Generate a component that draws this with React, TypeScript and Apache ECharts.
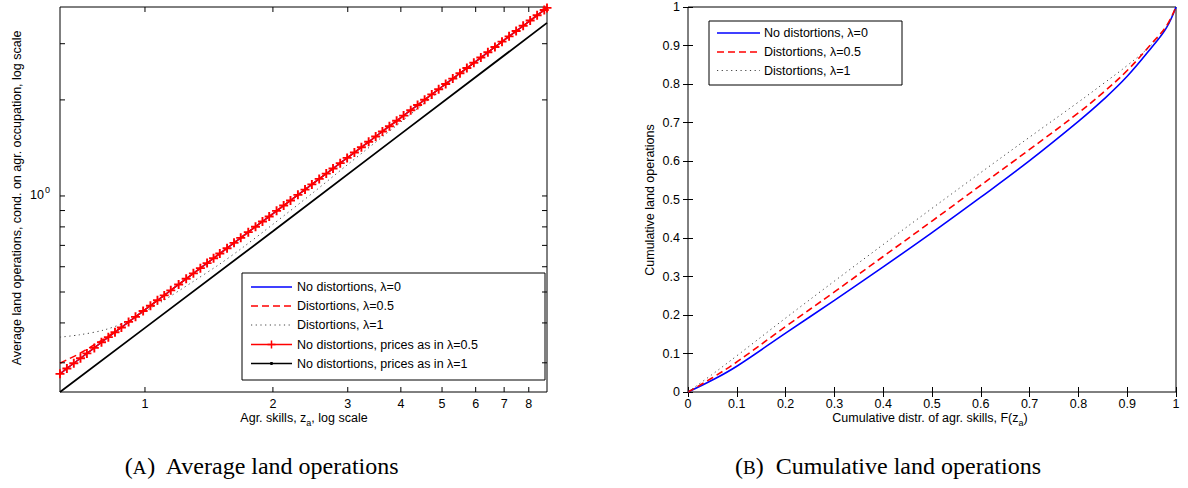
import React, { useEffect, useRef } from "react";
import * as echarts from "echarts";

const FONT = "'Liberation Sans', Arial, Helvetica, sans-serif";
const SERIF = "'Liberation Serif', 'Times New Roman', serif";

// ---------- Panel A: average land operations (log-log) ----------
const skillGrid = [
  0.631, 0.655, 0.68, 0.705, 0.73, 0.76, 0.79, 0.82, 0.85, 0.88,
  0.915, 0.95, 0.99, 1.03, 1.07, 1.11, 1.15, 1.2, 1.25, 1.3,
  1.35, 1.4, 1.45, 1.5, 1.56, 1.62, 1.68, 1.75, 1.82, 1.89,
  1.96, 2.04, 2.12, 2.2, 2.29, 2.38, 2.47, 2.57, 2.67, 2.77,
  2.88, 2.99, 3.11, 3.23, 3.36, 3.49, 3.62, 3.76, 3.91, 4.06,
  4.22, 4.38, 4.55, 4.73, 4.91, 5.1, 5.3, 5.51, 5.72, 5.94,
  6.17, 6.41, 6.66, 6.92, 7.19, 7.47, 7.76, 8.06, 8.37, 8.7,
  8.83,
];
const avgNoDist = [
  0.277, 0.288, 0.299, 0.31, 0.321, 0.334, 0.348, 0.361, 0.374, 0.387,
  0.403, 0.418, 0.436, 0.453, 0.471, 0.488, 0.506, 0.528, 0.55, 0.572,
  0.594, 0.616, 0.638, 0.66, 0.686, 0.713, 0.739, 0.77, 0.801, 0.832,
  0.862, 0.898, 0.933, 0.968, 1.008, 1.047, 1.087, 1.131, 1.175, 1.219,
  1.267, 1.316, 1.368, 1.421, 1.478, 1.536, 1.593, 1.654, 1.72, 1.786,
  1.857, 1.927, 2.002, 2.081, 2.16, 2.244, 2.332, 2.424, 2.517, 2.614,
  2.715, 2.82, 2.93, 3.045, 3.164, 3.287, 3.414, 3.546, 3.683, 3.828,
  3.885,
];
// "No distortions, prices as in λ=0.5" coincides with λ=0 in the picture
const avgPricesHalf = avgNoDist;

const distHalfSkills = [0.631, 0.7, 0.8, 0.9, 1.0, 2.0, 4.0, 8.83];
const avgDistHalf = [0.299, 0.32, 0.356, 0.396, 0.44, 0.88, 1.76, 3.885];

const distOneSkills = [0.631, 0.7, 0.8, 0.9, 1.0, 1.1, 1.3, 1.5, 1.7, 2, 2.5, 3, 4, 5, 6, 7, 8, 8.83];
const avgDistOne = [0.361, 0.367, 0.38, 0.402, 0.435, 0.468, 0.54, 0.612, 0.69, 0.815, 1.03, 1.255, 1.705, 2.165, 2.625, 3.075, 3.52, 3.885];

const pricesOneSkills = [0.631, 1, 2, 4, 8.83];
const avgPricesOne = [0.243, 0.386, 0.775, 1.565, 3.486];

const skillTicks = [1, 2, 3, 4, 5, 6, 7, 8];
const skillTickLabels = ["1", "2", "3", "4", "5", "6", "7", "8"];
const avgTicks = [0.3, 0.4, 0.5, 0.6, 0.7, 0.8, 0.9, 1, 2, 3];

// ---------- Panel B: cumulative land operations ----------
const cumSkills = [0, 0.05, 0.1, 0.2, 0.3, 0.4, 0.5, 0.6, 0.7, 0.8, 0.85, 0.9, 0.95, 0.98, 1];
const cumNoDist = [0, 0.031, 0.067, 0.153, 0.238, 0.325, 0.414, 0.506, 0.601, 0.703, 0.758, 0.82, 0.895, 0.945, 1];
const cumDistHalf = [0, 0.037, 0.078, 0.17, 0.26, 0.352, 0.444, 0.537, 0.63, 0.725, 0.777, 0.835, 0.905, 0.95, 1];
const cumDistOne = [0, 0.046, 0.094, 0.192, 0.288, 0.383, 0.477, 0.57, 0.662, 0.753, 0.8, 0.848, 0.902, 0.946, 1];

const pair = (xs: number[], ys: number[]) => xs.map((x, i) => [x, ys[i]]);

const BLUE = "#0000ff";
const RED = "#ff0000";
const DOT = "#444444";
const PLUS = "path://M0,5L10,5M5,0L5,10";

function buildOption() {
  const tickStyle = { stroke: "#000", lineWidth: 1 };
  const T = 5;

  const legendRow = (
    x1: number, x2: number, tx: number, y: number, text: string,
    stroke: string, dash: number[] | null, width: number, marker: string | null
  ) => {
    const els: any[] = [
      {
        type: "line",
        shape: { x1, y1: y, x2, y2: y },
        style: { stroke, lineWidth: width, lineDash: dash || undefined },
      },
    ];
    const cx = (x1 + x2) / 2;
    if (marker === "plus") {
      els.push({ type: "line", shape: { x1: cx, y1: y - 4, x2: cx, y2: y + 4 }, style: { stroke, lineWidth: 1.5 } });
      els.push({ type: "line", shape: { x1: cx - 4, y1: y, x2: cx + 4, y2: y }, style: { stroke, lineWidth: 1.5 } });
    }
    if (marker === "dot") {
      els.push({ type: "circle", shape: { cx, cy: y, r: 1.6 }, style: { fill: stroke } });
    }
    els.push({
      type: "text",
      x: tx,
      y,
      style: { text, fontSize: 12.5, fontFamily: FONT, fill: "#000", align: "left", verticalAlign: "middle" },
    });
    return els;
  };

  const graphic: any[] = [
    // Left legend
    {
      type: "group",
      z: 100,
      children: [
        { type: "rect", shape: { x: 242, y: 273, width: 303, height: 107 }, style: { fill: "#fff", stroke: "#000", lineWidth: 1 } },
        ...legendRow(251, 292, 297, 287, "No distortions, λ=0", BLUE, null, 1.5, null),
        ...legendRow(251, 292, 297, 306, "Distortions, λ=0.5", RED, [7, 4], 1.5, null),
        ...legendRow(251, 292, 297, 325, "Distortions, λ=1", DOT, [1.2, 3.5], 1, null),
        ...legendRow(251, 292, 297, 344.5, "No distortions, prices as in λ=0.5", RED, null, 1.5, "plus"),
        ...legendRow(251, 292, 297, 363.5, "No distortions, prices as in λ=1", "#000", null, 1.5, "dot"),
      ],
    },
    // Right legend
    {
      type: "group",
      z: 100,
      children: [
        { type: "rect", shape: { x: 709, y: 21, width: 193, height: 64 }, style: { fill: "#fff", stroke: "#000", lineWidth: 1 } },
        ...legendRow(717, 760, 764, 33, "No distortions, λ=0", BLUE, null, 1.5, null),
        ...legendRow(717, 760, 764, 52, "Distortions, λ=0.5", RED, [7, 4], 1.5, null),
        ...legendRow(717, 760, 764, 70.5, "Distortions, λ=1", DOT, [1.2, 3.5], 1, null),
      ],
    },
    // Axis titles
    {
      type: "text",
      x: 17,
      y: 198,
      rotation: Math.PI / 2,
      style: {
        text: "Average land operations, cond. on agr. occupation, log scale",
        fontSize: 12.5, fontFamily: FONT, fill: "#000", align: "center", verticalAlign: "middle",
      },
    },
    {
      type: "text",
      x: 304,
      y: 418,
      style: {
        text: "{n|Agr. skills, z}{s|a}{n|, log scale}",
        align: "center", verticalAlign: "middle",
        rich: {
          n: { fontSize: 12.5, fontFamily: FONT, fill: "#000" },
          s: { fontSize: 9, fontFamily: FONT, fill: "#000", padding: [9, 0, 0, 0] },
        },
      },
    },
    {
      type: "text",
      x: 650,
      y: 200,
      rotation: Math.PI / 2,
      style: {
        text: "Cumulative land operations",
        fontSize: 12.5, fontFamily: FONT, fill: "#000", align: "center", verticalAlign: "middle",
      },
    },
    {
      type: "text",
      x: 930,
      y: 418,
      style: {
        text: "{n|Cumulative distr. of agr. skills, F(z}{s|a}{n|)}",
        align: "center", verticalAlign: "middle",
        rich: {
          n: { fontSize: 12.5, fontFamily: FONT, fill: "#000" },
          s: { fontSize: 9, fontFamily: FONT, fill: "#000", padding: [9, 0, 0, 0] },
        },
      },
    },
    // Captions
    {
      type: "text",
      x: 262,
      y: 466,
      style: {
        text: "{n|(}{c|A}{n|)  Average land operations}",
        align: "center", verticalAlign: "middle",
        rich: {
          n: { fontSize: 24, fontFamily: SERIF, fill: "#000" },
          c: { fontSize: 19, fontFamily: SERIF, fill: "#000", padding: [3, 0, 0, 0] },
        },
      },
    },
    {
      type: "text",
      x: 888,
      y: 466,
      style: {
        text: "{n|(}{c|B}{n|)  Cumulative land operations}",
        align: "center", verticalAlign: "middle",
        rich: {
          n: { fontSize: 24, fontFamily: SERIF, fill: "#000" },
          c: { fontSize: 19, fontFamily: SERIF, fill: "#000", padding: [3, 0, 0, 0] },
        },
      },
    },
  ];

  const linAxisBase = {
    type: "value",
    min: 0,
    max: 1,
    interval: 0.1,
    axisLine: { show: false },
    axisTick: { show: true, inside: true, length: T, lineStyle: { color: "#000", width: 1 } },
    splitLine: { show: false },
  };

  return {
    animation: false,
    backgroundColor: "#ffffff",
    grid: [
      { left: 60, top: 7, width: 487, height: 385, show: true, borderColor: "#000", borderWidth: 1, backgroundColor: "transparent" },
      { left: 688, top: 7, width: 488, height: 385, show: true, borderColor: "#000", borderWidth: 1, backgroundColor: "transparent" },
    ],
    xAxis: [
      {
        type: "log", logBase: 10, gridIndex: 0, min: 0.631, max: 8.83,
        axisLine: { show: false }, axisTick: { show: false }, axisLabel: { show: false }, splitLine: { show: false },
      },
      {
        ...linAxisBase, gridIndex: 1, position: "bottom",
        axisLabel: { color: "#000", fontSize: 12.5, fontFamily: FONT, margin: 5 },
      },
      { ...linAxisBase, gridIndex: 1, position: "top", axisLabel: { show: false } },
    ],
    yAxis: [
      {
        type: "log", logBase: 10, gridIndex: 0, min: 0.243, max: 3.91,
        axisLine: { show: false }, axisTick: { show: false }, axisLabel: { show: false }, splitLine: { show: false },
      },
      {
        ...linAxisBase, gridIndex: 1, position: "left",
        axisLabel: { color: "#000", fontSize: 12.5, fontFamily: FONT, margin: 8 },
      },
      { ...linAxisBase, gridIndex: 1, position: "right", axisLabel: { show: false } },
    ],
    graphic,
    series: [
      // Panel A
      {
        type: "line", xAxisIndex: 0, yAxisIndex: 0, data: pair(skillGrid, avgNoDist),
        showSymbol: false, lineStyle: { color: BLUE, width: 1.5 }, z: 2,
      },
      {
        type: "line", xAxisIndex: 0, yAxisIndex: 0, data: pair(distHalfSkills, avgDistHalf),
        showSymbol: false, lineStyle: { color: RED, width: 1.5, type: [7, 4] }, z: 3,
      },
      {
        type: "line", xAxisIndex: 0, yAxisIndex: 0, data: pair(distOneSkills, avgDistOne), smooth: 0.3,
        showSymbol: false, lineStyle: { color: DOT, width: 1, type: [1.2, 3.5] }, z: 4,
      },
      {
        type: "line", xAxisIndex: 0, yAxisIndex: 0, data: pair(skillGrid, avgPricesHalf),
        showSymbol: true, showAllSymbol: true, symbol: PLUS, symbolSize: 9,
        itemStyle: { color: "transparent", borderColor: RED, borderWidth: 1.9 },
        lineStyle: { color: RED, width: 1.5 }, z: 5,
      },
      {
        type: "line", xAxisIndex: 0, yAxisIndex: 0, data: pair(pricesOneSkills, avgPricesOne),
        showSymbol: false, lineStyle: { color: "#000", width: 1.8 }, z: 6,
      },
      // Panel A ticks (x)
      {
        type: "custom", xAxisIndex: 0, yAxisIndex: 0, clip: false, z: 10,
        data: skillTicks.map((v) => [v, 1]),
        renderItem: (params: any, api: any) => {
          const p = api.coord([api.value(0), 1]);
          const cs = params.coordSys;
          const bottom = cs.y + cs.height;
          return {
            type: "group",
            children: [
              { type: "line", shape: { x1: p[0], y1: bottom, x2: p[0], y2: bottom - T }, style: tickStyle },
              { type: "line", shape: { x1: p[0], y1: cs.y, x2: p[0], y2: cs.y + T }, style: tickStyle },
              {
                type: "text", x: p[0], y: bottom + 5,
                style: {
                  text: skillTickLabels[params.dataIndex], fontSize: 12.5, fontFamily: FONT,
                  fill: "#000", align: "center", verticalAlign: "top",
                },
              },
            ],
          };
        },
      },
      // Panel A ticks (y)
      {
        type: "custom", xAxisIndex: 0, yAxisIndex: 0, clip: false, z: 10,
        data: avgTicks.map((v) => [1, v]),
        renderItem: (params: any, api: any) => {
          const v = api.value(1);
          const p = api.coord([1, v]);
          const cs = params.coordSys;
          const right = cs.x + cs.width;
          const children: any[] = [
            { type: "line", shape: { x1: cs.x, y1: p[1], x2: cs.x + T, y2: p[1] }, style: tickStyle },
            { type: "line", shape: { x1: right, y1: p[1], x2: right - T, y2: p[1] }, style: tickStyle },
          ];
          if (v === 1) {
            children.push({
              type: "text", x: cs.x - 10, y: p[1] - 1,
              style: {
                text: "{b|10}{s|0}", align: "right", verticalAlign: "middle",
                rich: {
                  b: { fontSize: 12.5, fontFamily: FONT, fill: "#000" },
                  s: { fontSize: 9, fontFamily: FONT, fill: "#000", padding: [0, 0, 9, 1] },
                },
              },
            });
          }
          return { type: "group", children };
        },
      },
      // Panel B
      {
        type: "line", xAxisIndex: 1, yAxisIndex: 1, data: pair(cumSkills, cumNoDist), smooth: 0.4,
        showSymbol: false, lineStyle: { color: BLUE, width: 1.6 }, z: 2,
      },
      {
        type: "line", xAxisIndex: 1, yAxisIndex: 1, data: pair(cumSkills, cumDistHalf), smooth: 0.4,
        showSymbol: false, lineStyle: { color: RED, width: 1.6, type: [7, 4] }, z: 3,
      },
      {
        type: "line", xAxisIndex: 1, yAxisIndex: 1, data: pair(cumSkills, cumDistOne), smooth: 0.4,
        showSymbol: false, lineStyle: { color: DOT, width: 1, type: [1.2, 3.5] }, z: 4,
      },
    ],
  };
}

export default function App() {
  const ref = useRef<HTMLDivElement>(null);
  useEffect(() => {
    if (!ref.current) return;
    const chart = echarts.init(ref.current, undefined, { renderer: "svg" });
    chart.setOption(buildOption() as any);
    return () => chart.dispose();
  }, []);
  return (
    <div
      ref={ref}
      style={{ position: "fixed", left: 0, top: 0, width: 1188, height: 488, background: "#fff" }}
    />
  );
}
